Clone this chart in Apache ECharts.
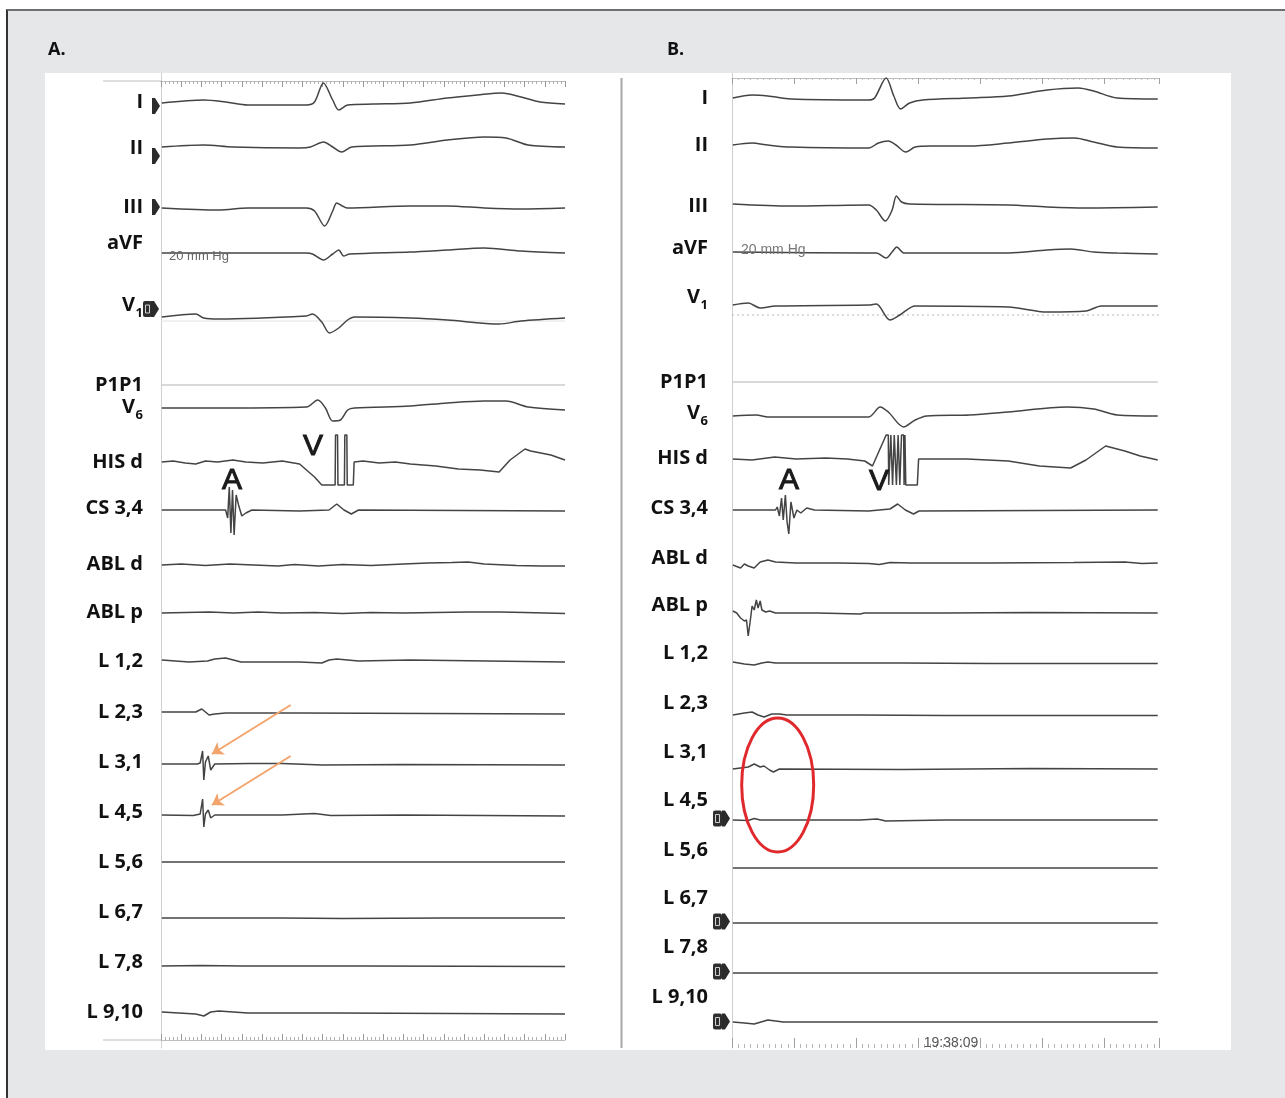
<!DOCTYPE html>
<html>
<head>
<meta charset="utf-8">
<script src="https://cdn.jsdelivr.net/npm/echarts@6/dist/echarts.min.js"></script>
<style>
  html, body { margin: 0; padding: 0; background: #fff; }
  #frame { position: absolute; left: 6px; top: 9px; width: 1279px; height: 1089px; background: #e6e7e9;
           border-left: 2px solid #333; border-top: 2px solid #707070; box-sizing: border-box; }
  #sheet { position: absolute; left: 45px; top: 73px; width: 1186px; height: 977px; background: #fff; }
  #chart { position: absolute; left: 0; top: 0; width: 1285px; height: 1098px; }
</style>
</head>
<body>
<div id="frame"></div>
<div id="sheet"></div>
<div id="chart"></div>
<script>
// channel names, same order in both panels
const channels = ['I', 'II', 'III', 'aVF', 'V1', 'P1P1', 'V6', 'HIS d', 'CS 3,4', 'ABL d', 'ABL p',
  'L 1,2', 'L 2,3', 'L 3,1', 'L 4,5', 'L 5,6', 'L 6,7', 'L 7,8', 'L 9,10']

// panel A traces, [time ms, amplitude]
const aI = [[2, 0], [106, .3], [160, .1], [215, -.2], [360, -.2], [380, .1], [402, 2.0], [425, .3], [440, -.7], [462, -.2], [526, -.1], [617, 0], [709, .5], [783, .8], [844, 1.0], [891, .6], [938, .1], [1000, -.1]]
const aII = [[2, 0], [106, .2], [178, 0], [343, -.1], [370, 0], [402, .5], [425, 0], [447, -.5], [472, 0], [617, .2], [709, .7], [800, 1.0], [854, .9], [909, .2], [1000, 0]]
const aIII = [[2, 0], [143, -.2], [215, 0], [360, 0], [380, -.3], [405, -1.8], [425, -.3], [435, .5], [449, .2], [462, 0], [617, .2], [709, .2], [800, 0], [891, -.1], [1000, 0]]
const aAVF = [[2, 0], [360, 0], [375, -.1], [402, -.7], [425, -.1], [440, .3], [452, -.3], [467, -.1], [617, .1], [709, .3], [800, .5], [891, .2], [1000, 0]]
const aV1 = [[2, 0], [86, .3], [106, -.1], [143, -.2], [360, .1], [375, .3], [398, -.5], [417, -1.6], [440, -1.1], [462, -.3], [479, 0], [617, -.1], [709, -.3], [837, -.7], [891, -.4], [1000, -.1]]
const aP1 = [[2, 0], [1000, 0]]
const aV6 = [[2, 0], [160, 0], [360, .1], [388, .8], [407, 0], [425, -1.3], [444, -1.2], [462, -.2], [479, 0], [617, .2], [709, .5], [800, .7], [854, .7], [909, .1], [1000, -.2]]
const aHIS = [[2, 0], [30, .1], [60, -.1], [86, -.2], [110, .1], [140, 0], [178, .2], [210, 0], [252, -.1], [300, .1], [343, -.2], [380, -1.5], [398, -2.3], [431, -2.3], [432, 2.7], [437, 2.7], [438, -2.3], [454, -2.3], [455, 2.7], [460, 2.7], [461, -2.3], [476, -2.3], [478, 0], [500, .1], [540, -.1], [580, 0], [617, -.2], [680, -.4], [736, -.7], [790, -.8], [837, -1.0], [864, .2], [901, 1.3], [915, 1.1], [940, .9], [965, .7], [1000, .2]]
const aCS = [[2, 0], [160, 0], [165, -.8], [169, 2.3], [173, -2.3], [177, 2.0], [181, -2.5], [186, 1.5], [192, .5], [200, -.6], [210, -.3], [225, 0], [343, -.1], [416, 0], [435, .6], [453, 0], [471, -.4], [489, 0], [1000, -.1]]
const aABLd = [[2, 0], [50, .1], [110, -.05], [170, .1], [230, 0], [290, -.1], [330, .05], [390, -.1], [450, .05], [520, -.05], [600, .1], [660, .2], [720, .25], [760, .3], [800, .1], [880, -.05], [940, -.1], [1000, -.1]]
const aABLp = [[2, 0], [60, .05], [120, .1], [180, 0], [240, .1], [300, 0], [380, .05], [450, -.05], [520, .05], [600, 0], [680, .05], [760, .1], [840, .1], [900, .05], [1000, -.05]]
const aL12 = [[2, .1], [69, -.1], [115, 0], [133, .2], [160, .3], [198, -.1], [343, -.1], [398, -.2], [416, .1], [435, .2], [489, 0], [617, .1], [1000, -.1]]
const aL23 = [[2, .1], [86, .1], [101, .4], [119, -.2], [133, -.1], [160, 0], [252, 0], [343, 0], [1000, -.1]]
const aL31 = [[2, 0], [90, 0], [97, .1], [103, 1.3], [106, -1.6], [110, .2], [117, .8], [123, -.6], [133, 0], [220, .05], [300, .05], [400, -.1], [600, -.05], [1000, -.1]]
const aL45 = [[2, 0], [80, -.05], [97, .1], [103, 1.6], [106, -1.2], [110, .1], [117, .5], [123, -.3], [133, 0], [300, 0], [380, .15], [420, -.05], [600, 0], [1000, -.1]]
const aL56 = [[2, 0], [400, 0], [1000, 0]]
const aL67 = [[2, 0], [300, 0], [450, -.05], [700, 0], [1000, 0]]
const aL78 = [[2, 0], [100, .05], [200, 0], [500, 0], [1000, -.05]]
const aL910 = [[2, .1], [86, -.1], [106, -.3], [123, .1], [143, .2], [215, 0], [435, 0], [1000, -.1]]

// panel B traces
const bI = [[2, 0], [47, .3], [84, .2], [138, -.1], [320, -.2], [334, 0], [361, 2.0], [379, .2], [395, -1.1], [416, -.5], [447, -.2], [556, 0], [647, .2], [738, .8], [811, 1.0], [847, .7], [902, 0], [997, -.1]]
const bII = [[2, .1], [47, .3], [84, .1], [138, -.1], [320, -.2], [343, .3], [366, .5], [384, .1], [407, -.6], [429, -.1], [466, 0], [556, 0], [647, .3], [738, .7], [802, .8], [847, .4], [902, -.1], [997, -.2]]
const bIII = [[2, .1], [138, -.1], [320, 0], [338, -.5], [359, -1.6], [375, -.5], [385, .9], [397, .3], [416, .1], [647, 0], [738, -.2], [829, -.3], [997, -.2]]
const bAVF = [[2, .1], [320, 0], [338, 0], [361, -.5], [375, .1], [386, .6], [402, 0], [416, 0], [647, 0], [738, .3], [793, .4], [847, .1], [902, 0], [997, -.1]]
const bV1 = [[2, .1], [38, .3], [66, -.2], [102, 0], [320, .1], [338, .2], [370, -1.4], [393, -.9], [429, 0], [647, -.1], [738, -.6], [829, -.5], [865, 0], [997, 0]]
const bP1 = [[2, 0], [997, 0]]
const bV6 = [[2, 0], [57, .1], [84, -.1], [320, -.1], [347, .9], [366, .4], [402, -1.1], [429, -.4], [456, 0], [556, .1], [647, .4], [784, .9], [847, .7], [902, .1], [997, 0]]
const bHIS = [[2, 0], [47, -.1], [100, .2], [150, 0], [220, .1], [270, 0], [311, -.2], [329, -.7], [361, 2.4], [366, 2.4], [367, -2.6], [371, -2.6], [372, 2.4], [375, 2.4], [376, -2.6], [379, -2.6], [380, 2.4], [384, 2.4], [385, -2.6], [388, -2.6], [389, 2.4], [392, 2.4], [393, -2.6], [396, -2.6], [397, 2.4], [402, 2.4], [403, -2.6], [405, 2.4], [406, 2.4], [407, -2.6], [434, -2.6], [437, 0], [550, 0], [647, -.2], [720, -.7], [793, -.9], [829, -.1], [875, 1.3], [920, .8], [956, .3], [997, -.1]]
const bCS = [[2, 0], [102, 0], [106, .3], [111, -.6], [116, 1.2], [120, -1.0], [125, 1.5], [129, -1.2], [133, -2.4], [138, .8], [145, -.8], [152, 0], [161, -.3], [175, .2], [193, 0], [320, -.1], [370, .1], [388, .6], [406, 0], [425, -.4], [438, -.1], [997, 0]]
const bABLd = [[2, -.2], [20, -.5], [29, -.1], [38, -.3], [52, -.5], [66, .1], [84, .3], [102, .1], [150, 0], [250, 0], [320, -.05], [345, -.15], [370, .05], [420, 0], [600, 0], [800, .05], [920, .1], [960, -.05], [997, 0]]
const bABLp = [[2, .2], [11, 0], [20, -.5], [29, -.8], [34, -.7], [38, -2.3], [43, -.7], [47, .7], [52, .3], [57, 1.3], [61, .5], [66, 1.2], [70, .3], [79, .1], [88, .2], [102, 0], [200, 0], [300, -.1], [310, 0], [500, 0], [700, .05], [997, 0]]
const bL12 = [[2, .1], [29, -.1], [52, -.2], [70, 0], [84, .1], [102, 0], [400, 0], [600, -.05], [997, -.05]]
const bL23 = [[2, 0], [29, .2], [47, .3], [61, 0], [75, -.2], [93, .1], [111, .1], [129, 0], [300, 0], [500, -.05], [997, -.05]]
const bL31 = [[2, 0], [38, .2], [52, .5], [66, .2], [75, .3], [88, -.1], [97, -.3], [111, 0], [400, -.05], [700, .05], [997, 0]]
const bL45 = [[2, 0], [38, -.05], [52, .15], [66, 0], [300, 0], [340, .1], [360, -.1], [500, 0], [997, 0]]
const bL56 = [[2, 0], [500, 0], [997, 0]]
const bL67 = [[2, 0], [997, 0]]
const bL78 = [[2, 0], [997, 0]]
const bL910 = [[2, 0], [29, -.1], [52, -.2], [84, .2], [120, 0], [997, 0]]

const tracesA = [aI, aII, aIII, aAVF, aV1, aP1, aV6, aHIS, aCS, aABLd, aABLp, aL12, aL23, aL31, aL45, aL56, aL67, aL78, aL910]
const tracesB = [bI, bII, bIII, bAVF, bV1, bP1, bV6, bHIS, bCS, bABLd, bABLp, bL12, bL23, bL31, bL45, bL56, bL67, bL78, bL910]

// ---- layout ----
// channel baseline offsets on the y scale (1 unit = 10 px)
const rowA = [3.0, 7.4, 13.5, 18.0, 24.4, 31.2, 33.5, 38.9, 43.7, 49.2, 54.0, 58.8, 64.0, 69.1, 74.2, 78.9, 84.5, 89.3, 94.0]
const rowB = [2.5, 7.3, 13.2, 18.0, 23.3, 30.9, 34.3, 38.6, 43.7, 49.0, 54.0, 59.0, 64.2, 69.6, 74.7, 79.5, 85.0, 90.0, 94.9]
const labelYA = [102, 148, 207, 243, 305, 385, 407, 462, 508, 564, 612, 661, 712, 762, 812, 862, 912, 962, 1012]
const labelYB = [98, 145, 206, 248, 297, 382, 413, 458, 508, 558, 605, 653, 703, 752, 800, 850, 898, 947, 997]
const arrowsA = [[[321, 63.2], [126, 68.1]], [[321, 68.3], [126, 73.2]]]
const ringB = [107, 71.2]

const INK = '#444'
const LABEL_FONT = '"Open Sans", "Noto Sans", sans-serif'
const MARK_FONT = '"Liberation Sans", Arial, sans-serif'
const NOTE_FONT = '"Liberation Sans Narrow", "Liberation Sans", sans-serif'
const smoothSet = ['I', 'II', 'III', 'aVF', 'V1', 'V6']

const myChart = echarts.init(document.getElementById('chart'))

function traceSeries(traces, rows, grid, xIdx) {
  return traces.map((pts, i) => ({
    type: 'line',
    name: channels[i],
    xAxisIndex: xIdx,
    yAxisIndex: grid,
    data: pts.map(p => [p[0], rows[i] - p[1]]),
    symbol: 'none',
    smooth: smoothSet.includes(channels[i]) ? 0.3 : false,
    lineStyle: channels[i] === 'P1P1' ? { color: '#b3b3b3', width: 1 } : { color: INK, width: 1.5 },
    silent: true,
    animation: false
  }))
}

function labelEls(rightX, ys) {
  const els = []
  channels.forEach((name, i) => {
    const m = name.match(/^V(\d)$/)
    const base = { fill: '#111', fontFamily: LABEL_FONT, fontWeight: 'bold', fontSize: 20, textAlign: 'right', textVerticalAlign: 'middle' }
    if (m) {
      els.push({ type: 'text', x: rightX - 8, y: ys[i], style: Object.assign({}, base, { text: 'V' }), z: 30 })
      els.push({ type: 'text', x: rightX, y: ys[i] + 8, style: Object.assign({}, base, { text: m[1], fontSize: 13 }), z: 30 })
    } else {
      els.push({ type: 'text', x: rightX, y: ys[i], style: Object.assign({}, base, { text: name }), z: 30 })
    }
  })
  return els
}

function tri(x, y) {
  return { type: 'polygon', shape: { points: [[x, y - 8], [x + 3, y - 8], [x + 8, y], [x + 3, y + 8], [x, y + 8]] }, style: { fill: '#2b2b2b' }, z: 30 }
}
function box(x, y) {
  return [
    { type: 'rect', shape: { x: x, y: y - 8, width: 9, height: 16, r: 2 }, style: { fill: '#2e2e2e' }, z: 30 },
    { type: 'rect', shape: { x: x + 2.5, y: y - 4, width: 4, height: 8 }, style: { fill: 'none', stroke: '#cfcfcf', lineWidth: 1 }, z: 31 }
  ]
}
function txt(text, x, y, font, size, color, align, weight, stroke) {
  const style = { text: text, fill: color, fontFamily: font, fontSize: size, fontWeight: weight || 'normal', textAlign: align || 'center', textVerticalAlign: 'middle' }
  if (stroke) { style.stroke = color; style.lineWidth = stroke }
  return { type: 'text', x: x, y: y, z: 30, style: style }
}
function hline(x1, x2, y, color, dash) {
  return { type: 'line', shape: { x1: x1, y1: y, x2: x2, y2: y }, style: { stroke: color, lineWidth: 1, lineDash: dash || null }, z: 1 }
}

const rulerBase = {
  type: 'value', min: 0, max: 1000,
  axisLabel: { show: false }, splitLine: { show: false },
  axisLine: { show: true, lineStyle: { color: '#bdbdbd', width: 1 } }
}

const graphics = [].concat(
  labelEls(143, labelYA),
  labelEls(708, labelYB),
  [tri(152, 106), tri(152, 156), tri(152, 207)],
  box(143, 309), [tri(151, 309)],
  ...[818.5, 921.5, 971.5, 1021.5].map(y => box(713, y).concat([tri(722, y)])),
  [
    txt('A.', 48, 50, LABEL_FONT, 18, '#111', 'left', 'bold'),
    txt('B.', 667, 50, LABEL_FONT, 18, '#111', 'left', 'bold'),
    txt('A', 232, 481, MARK_FONT, 30, '#1a1a1a', 'center', 'normal', 1),
    txt('V', 313, 447, MARK_FONT, 30, '#1a1a1a', 'center', 'normal', 1),
    txt('A', 789, 481, MARK_FONT, 30, '#1a1a1a', 'center', 'normal', 1),
    txt('V', 879, 482, MARK_FONT, 30, '#1a1a1a', 'center', 'normal', 1),
    txt('20 mm Hg', 169, 256, NOTE_FONT, 13, '#666', 'left'),
    txt('20 mm Hg', 741, 250, NOTE_FONT, 14, '#777', 'left'),
    txt('19:38:09', 951, 1043, NOTE_FONT, 14, '#555'),
    hline(103, 161, 81, '#bdbdbd'),
    hline(103, 161, 1040, '#bdbdbd'),
    hline(161, 565, 321, '#e2e2e2'),
    hline(732, 1159, 315, '#b8b8b8', [2, 3]),
    { type: 'line', shape: { x1: 621.5, y1: 78, x2: 621.5, y2: 1048 }, style: { stroke: '#a8a8a8', lineWidth: 2 }, z: 1 }
  ]
)

const option = {
  backgroundColor: 'transparent',
  animation: false,
  grid: [
    { left: 161, top: 73, width: 404, height: 975 },
    { left: 732, top: 73, width: 427, height: 975 }
  ],
  xAxis: [
    Object.assign({}, rulerBase, { gridIndex: 0, position: 'top', offset: -8, interval: 50,
      axisTick: { show: true, inside: true, length: 6, lineStyle: { color: '#999' } },
      minorTick: { show: true, splitNumber: 5, length: 3, lineStyle: { color: '#b0b0b0' } } }),
    Object.assign({}, rulerBase, { gridIndex: 0, position: 'bottom', offset: -8, interval: 50,
      axisTick: { show: true, inside: true, length: 6, lineStyle: { color: '#999' } },
      minorTick: { show: true, splitNumber: 5, length: 3, lineStyle: { color: '#b0b0b0' } } }),
    Object.assign({}, rulerBase, { gridIndex: 1, position: 'top', offset: -5, interval: 145.3,
      axisTick: { show: true, inside: true, length: 6, lineStyle: { color: '#a0a0a0' } },
      minorTick: { show: true, splitNumber: 10, length: 2, lineStyle: { color: '#c0c0c0' } } }),
    Object.assign({}, rulerBase, { gridIndex: 1, position: 'bottom', offset: 0, interval: 145.3,
      axisLine: { show: false },
      axisTick: { show: true, inside: true, length: 10, lineStyle: { color: '#a0a0a0' } },
      minorTick: { show: true, splitNumber: 10, length: 4, lineStyle: { color: '#b5b5b5' } } })
  ],
  yAxis: [0, 1].map(g => ({
    type: 'value', gridIndex: g, min: 0, max: 97.5, inverse: true,
    axisLine: { show: true, lineStyle: { color: '#cfcfcf', width: 1 } },
    axisTick: { show: false }, axisLabel: { show: false }, splitLine: { show: false }
  })),
  graphic: { elements: graphics },
  series: [].concat(
    traceSeries(tracesA, rowA, 0, 0),
    traceSeries(tracesB, rowB, 1, 2),
    [{
      type: 'lines', coordinateSystem: 'cartesian2d', xAxisIndex: 0, yAxisIndex: 0,
      symbol: ['none', 'arrow'], symbolSize: 11, silent: true, z: 5,
      lineStyle: { color: '#f3a46c', width: 2, opacity: 1 },
      data: arrowsA.map(c => ({ coords: c }))
    }]
  )
}
myChart.setOption(option)

// red ring around the L 3,1 / L 4,5 onset in panel B
const c = myChart.convertToPixel({ gridIndex: 1 }, ringB)
myChart.setOption({
  graphic: {
    elements: graphics.concat([{ type: 'ellipse', shape: { cx: c[0], cy: c[1], rx: 36, ry: 67 }, style: { fill: 'none', stroke: '#e0292d', lineWidth: 3 }, z: 40 }])
  }
})
</script>
</body>
</html>
